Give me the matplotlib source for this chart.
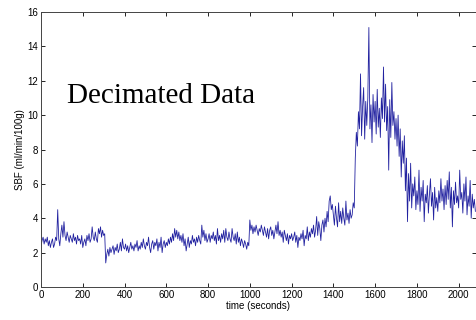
import matplotlib
matplotlib.use("Agg")
import matplotlib.pyplot as plt
import numpy as np

# SBF samples, one every 5 s from t = 0
t_step = 5
sbf = [
    2.4, 2.7, 2.9, 2.5, 2.8, 2.6, 2.9, 2.4, 2.7, 2.3,
    2.6, 2.8, 2.3, 2.5, 2.9, 2.7, 4.5, 2.8, 2.4, 3.1,
    3.6, 2.9, 3.8, 3.0, 2.7, 3.2, 2.9, 2.6, 3.0, 2.8,
    2.6, 3.1, 2.7, 2.9, 2.5, 3.0, 2.7, 2.8, 2.5, 3.0,
    2.3, 2.6, 2.8, 2.4, 3.0, 2.7, 3.1, 2.6, 2.8, 3.5,
    2.9, 2.7, 3.2, 2.8, 2.6, 3.4, 3.1, 3.5, 2.9, 3.3,
    3.0, 3.1, 1.4, 1.9, 2.2, 1.8, 2.3, 2.0, 2.2, 2.4,
    1.9, 2.3, 2.1, 2.5, 2.0, 2.2, 2.6, 2.1, 2.8, 2.3,
    2.2, 2.5, 2.1, 2.4, 2.0, 2.3, 2.6, 2.2, 2.4, 2.1,
    2.5, 2.3, 2.7, 2.1, 2.4, 2.2, 2.6, 2.3, 2.8, 2.4,
    2.2, 2.6, 2.4, 2.9, 2.3, 2.0, 2.5, 2.7, 2.2, 2.6,
    2.4, 2.8, 2.1, 2.6, 2.3, 2.9, 2.0, 2.5, 2.7, 2.3,
    2.6, 2.4, 2.8, 2.5, 2.9, 2.6, 3.1, 2.7, 3.4, 2.9,
    3.3, 2.8, 3.2, 2.7, 3.0, 2.6, 3.1, 2.4, 2.8, 2.1,
    2.5, 2.9, 2.3, 2.7, 2.5, 3.0, 2.6, 2.8, 2.4, 2.9,
    2.6, 3.0, 2.7, 2.5, 3.6, 2.9, 3.3, 2.7, 3.1, 2.6,
    2.8, 3.1, 2.6, 3.0, 2.8, 3.2, 2.7, 3.0, 2.5, 3.4,
    2.7, 3.0, 2.6, 3.1, 2.8, 3.3, 2.6, 3.4, 2.9, 2.7,
    3.2, 2.8, 2.6, 3.4, 2.9, 2.7, 3.1, 2.5, 3.2, 2.6,
    2.9, 2.4, 2.8, 2.6, 2.3, 2.7, 2.5, 2.2, 2.6, 2.4,
    3.9, 3.3, 3.6, 3.1, 3.5, 3.2, 3.6, 3.3, 3.0, 3.4,
    3.2, 3.6, 3.3, 3.0, 3.5, 3.2, 2.9, 3.4, 2.8, 3.3,
    3.5, 3.0, 3.3, 2.8, 3.2, 3.6, 3.1, 3.8, 3.0, 3.3,
    2.9, 3.2, 2.6, 3.3, 3.0, 2.7, 3.1, 2.5, 3.0, 2.8,
    3.1, 2.7, 2.9, 3.2, 2.6, 3.0, 2.3, 2.9, 2.7, 3.1,
    2.8, 3.3, 2.4, 3.0, 2.8, 3.5, 2.7, 3.2, 2.9, 3.4,
    3.1, 3.6, 2.9, 3.3, 4.1, 3.0, 3.8, 3.4, 2.7, 3.6,
    3.9, 3.2, 4.0, 3.5, 4.4, 3.8, 5.0, 5.3, 4.5, 4.8,
    4.2, 3.6, 4.7, 4.0, 3.5, 4.9, 3.8, 4.4, 3.7, 4.6,
    4.0, 3.6, 5.0, 3.9, 4.3, 3.7, 4.5, 4.0, 4.2, 4.9,
    4.6, 7.5, 9.0, 8.2, 10.2, 9.2, 12.4, 8.8, 10.5, 11.6,
    8.6, 10.8, 9.4, 11.0, 15.1, 9.2, 10.6, 8.4, 11.2, 9.6,
    10.8, 8.9, 11.5, 9.3, 10.4, 8.7, 11.0, 9.8, 12.8, 9.6,
    11.8, 9.1, 10.5, 6.8, 10.9, 8.7, 11.9, 9.4, 10.2, 8.6,
    9.8, 8.2, 10.0, 7.6, 9.2, 6.4, 8.5, 7.2, 8.8, 5.6,
    7.5, 3.8, 6.6, 5.0, 7.2, 4.6, 6.0, 5.3, 6.4, 4.5,
    5.6, 4.8, 6.8, 4.4, 5.8, 5.0, 6.2, 3.8, 5.4, 4.9,
    5.9, 4.3, 5.4, 6.3, 4.7, 5.5, 3.9, 5.8, 4.6, 5.2,
    4.4, 5.6, 4.9, 6.3, 5.0, 5.7, 4.5, 5.9, 4.8, 6.2,
    5.1, 6.7, 4.6, 5.8, 3.5, 5.6, 4.8, 6.1, 4.9, 5.3,
    4.6, 6.8, 5.1, 5.5, 4.3, 6.0, 5.0, 6.4, 4.2, 5.3,
    4.7, 6.2, 4.0, 5.4, 4.6, 5.1, 4.4,
]
time = np.arange(len(sbf)) * t_step

x_ticks = [0, 200, 400, 600, 800, 1000, 1200, 1400, 1600, 1800, 2000]
y_ticks = [0, 2, 4, 6, 8, 10, 12, 14, 16]

fig = plt.figure(figsize=(4.76, 3.2), dpi=100)
ax = fig.add_axes([41 / 476, 33 / 320, 435 / 476, 275 / 320])

ax.plot(time, sbf, color="#2222a0", linewidth=0.6)

ax.set_xlim(0, 2083)
ax.set_ylim(0, 16)
ax.set_xticks(x_ticks)
ax.set_yticks(y_ticks)
ax.tick_params(direction="in", length=3, width=0.6, labelsize=7,
               top=True, right=True, pad=2)
for lab in ax.get_xticklabels() + ax.get_yticklabels():
    lab.set_fontfamily("Liberation Sans")
for s in ax.spines.values():
    s.set_linewidth(0.7)
    s.set_color("#444444")

ax.set_xlabel("time (seconds)", fontsize=7, family="Liberation Sans", labelpad=1)
ax.set_ylabel("SBF (ml/min/100g)", fontsize=7, family="Liberation Sans", labelpad=2)

ax.text(125, 10.7, "Decimated Data", fontsize=21, family="Liberation Serif")

fig.savefig("out.png", dpi=100)
